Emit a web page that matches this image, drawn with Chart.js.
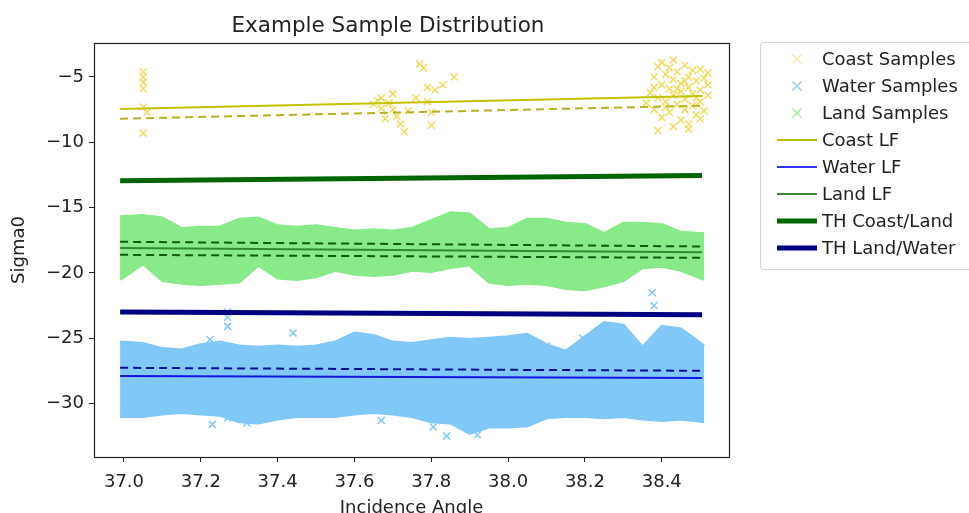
<!DOCTYPE html>
<html>
<head>
<meta charset="utf-8">
<script src="https://cdn.jsdelivr.net/npm/chart.js@4"></script>
<style>
html,body{margin:0;padding:0;background:#fff;}
#wrap{width:969px;height:513px;position:relative;}
</style>
</head>
<body>
<div id="wrap"><canvas id="c" width="969" height="513"></canvas></div>
<script>
// ---------- DATA ----------
const chartTitle = "Example Sample Distribution";
const xAxisLabel = "Incidence Angle";
const yAxisLabel = "Sigma0";
const xTicks = [37.0, 37.2, 37.4, 37.6, 37.8, 38.0, 38.2, 38.4];
const yTicks = [-30, -25, -20, -15, -10, -5];
const legendLabels = ["Coast Samples", "Water Samples", "Land Samples", "Coast LF", "Water LF", "Land LF", "TH Coast/Land", "TH Land/Water"];

// envelope of the dense sample clouds
const bandAngles = [36.99, 37.05, 37.10, 37.15, 37.20, 37.25, 37.30, 37.35, 37.40, 37.45, 37.50, 37.55, 37.60, 37.65, 37.70, 37.75, 37.80, 37.85, 37.90, 37.95, 38.00, 38.05, 38.10, 38.15, 38.20, 38.25, 38.30, 38.35, 38.40, 38.45, 38.51];
const landUpper  = [-15.7, -15.6, -15.8, -16.6, -16.5, -16.5, -15.9, -15.8, -16.4, -16.5, -16.4, -16.6, -16.8, -16.7, -16.8, -16.6, -16.0, -15.4, -15.5, -16.7, -16.6, -15.9, -15.9, -16.2, -16.3, -17.0, -16.2, -16.2, -16.3, -16.9, -17.0];
const landLower  = [-20.5, -19.3, -20.6, -20.8, -20.9, -20.8, -20.7, -19.4, -20.4, -20.5, -20.3, -19.8, -20.1, -20.2, -20.1, -19.8, -19.9, -19.6, -19.4, -20.7, -20.9, -20.8, -20.9, -21.2, -21.3, -21.0, -20.6, -19.6, -19.5, -19.8, -20.5];
const waterUpper = [-25.3, -25.4, -25.8, -25.9, -25.5, -25.3, -25.6, -25.7, -25.6, -25.7, -25.6, -25.3, -24.6, -24.8, -25.3, -25.4, -25.2, -25.0, -25.1, -25.0, -24.9, -24.7, -25.5, -26.0, -24.9, -23.8, -24.0, -25.7, -24.1, -24.3, -25.6];
const waterLower = [-31.0, -31.0, -30.8, -30.7, -30.8, -30.9, -31.4, -31.5, -31.2, -31.0, -31.0, -31.0, -30.8, -30.7, -30.8, -31.0, -31.4, -31.5, -32.3, -31.8, -31.8, -31.7, -31.1, -31.0, -31.0, -31.1, -31.0, -31.2, -31.3, -31.2, -31.4];

// individual visible water samples outside the cloud
const waterOutAngles = [37.224, 37.27, 37.27, 37.27, 37.44, 37.23, 37.27, 37.32, 37.805, 37.84, 37.92, 38.10, 38.195, 38.22, 38.375, 38.38, 37.67, 38.31];
const waterOutSigma  = [-25.1, -23.0, -23.4, -24.1, -24.6, -31.6, -31.1, -31.5, -31.8, -32.5, -32.4, -25.6, -25.0, -25.7, -21.5, -22.5, -31.3, -25.9];

// coast samples
const coastAngles = [37.05, 37.05, 37.05, 37.05, 37.05, 37.06, 37.05,
  37.65, 37.66, 37.67, 37.68, 37.69, 37.70, 37.71, 37.72, 37.73, 37.74, 37.76, 37.77, 37.78, 37.79, 37.79, 37.80, 37.80, 37.81, 37.83, 37.86, 37.67, 37.70,
  38.37, 38.38, 38.38, 38.39, 38.39, 38.40, 38.40, 38.40, 38.41, 38.41, 38.42, 38.42, 38.42, 38.43, 38.43, 38.43, 38.44, 38.44, 38.45, 38.45, 38.45, 38.46, 38.46, 38.46, 38.47, 38.47, 38.47, 38.48, 38.48, 38.48, 38.49, 38.49, 38.50, 38.50, 38.50, 38.51, 38.51, 38.52, 38.52, 38.39, 38.41, 38.44, 38.46, 38.49, 38.36, 38.38, 38.43, 38.47, 38.50, 38.52];
const coastSigma = [-4.6, -5.0, -5.4, -5.9, -7.3, -7.7, -9.3,
  -7.1, -6.8, -7.4, -8.2, -7.0, -6.3, -8.0, -8.6, -9.2, -7.6, -6.6, -4.0, -4.3, -5.8, -6.9, -8.7, -7.7, -6.0, -5.6, -5.0, -6.6, -7.5,
  -6.2, -5.0, -7.5, -4.2, -6.6, -3.9, -5.6, -8.1, -4.8, -6.9, -4.3, -5.9, -7.7, -5.2, -6.4, -8.8, -4.6, -7.1, -5.5, -6.1, -8.3, -4.1, -6.7, -7.5, -5.0, -5.8, -8.6, -4.5, -6.3, -7.2, -5.3, -7.9, -4.4, -6.0, -6.9, -5.1, -7.6, -4.7, -6.4, -9.1, -7.3, -5.9, -5.3, -6.6, -7.0, -5.8, -3.7, -9.0, -8.2, -5.6];

// fitted lines and thresholds (end points)
const lineAngles = [36.99, 38.505];
const coastFit = [-7.45, -6.45];
const coastFitLow = [-8.2, -7.2];
const waterFit = [-27.9, -28.05];
const waterFitHigh = [-27.27, -27.5];
const landFit = [-18.1, -18.42];
const landFitHigh = [-17.62, -17.98];
const landFitLow = [-18.62, -18.85];
const thCoastLand = [-12.95, -12.55];
const thLandWater = [-23.0, -23.2];

// ---------- STYLE ----------
const FONT = "'DejaVu Sans', sans-serif";
const C = {
  coastS: '#f0dc5c', waterS: '#80c8f7', landS: '#88ea88',
  coastLF: '#c4c000', coastDash: '#b8b020',
  waterLF: '#1414e0', waterDash: '#0a0a9a',
  landLF: '#2e8b2e', landDash: '#0e5a0e',
  thCL: '#006400', thLW: '#000080'
};

function pts(xs, ys) { return xs.map((x, i) => ({x: x, y: ys[i]})); }

function lineDs(label, ys, color, width, dash, order) {
  return { label, data: pts(lineAngles, ys), showLine: true, borderColor: color, backgroundColor: color,
    borderWidth: width, borderDash: dash || [], pointRadius: 0, fill: false, order, borderCapStyle: 'butt' };
}
function bandDs(label, ys, color, fillTarget, order) {
  return { label, data: pts(bandAngles, ys), showLine: true, borderColor: color, backgroundColor: color,
    borderWidth: 3, pointRadius: 0, fill: fillTarget, order, tension: 0 };
}

const datasets = [
  bandDs('Water Samples', waterUpper, C.waterS, '+1', 20),
  bandDs('Water Samples low', waterLower, C.waterS, false, 20),
  bandDs('Land Samples', landUpper, C.landS, '+1', 19),
  bandDs('Land Samples low', landLower, C.landS, false, 19),
  { label: 'Water Samples pts', data: pts(waterOutAngles, waterOutSigma), pointStyle: 'crossRot', pointRadius: 5,
    borderColor: C.waterS, backgroundColor: C.waterS, pointBorderWidth: 1.5, showLine: false, order: 18 },
  { label: 'Coast Samples', data: pts(coastAngles, coastSigma), pointStyle: 'crossRot', pointRadius: 5,
    borderColor: C.coastS, backgroundColor: C.coastS, pointBorderWidth: 1.5, showLine: false, order: 21 },
  lineDs('Coast LF', coastFit, C.coastLF, 2, null, 5),
  lineDs('Coast LF low', coastFitLow, C.coastDash, 2, [8, 5], 5),
  lineDs('Water LF', waterFit, C.waterLF, 2, null, 5),
  lineDs('Water LF high', waterFitHigh, C.waterDash, 2, [8, 5], 5),
  lineDs('Land LF', landFit, C.landLF, 2, null, 5),
  lineDs('Land LF high', landFitHigh, C.landDash, 2, [8, 5], 5),
  lineDs('Land LF low', landFitLow, C.landDash, 2, [8, 5], 5),
  lineDs('TH Coast/Land', thCoastLand, C.thCL, 5, null, 4),
  lineDs('TH Land/Water', thLandWater, C.thLW, 5, null, 4)
];

const legendItems = [
  {kind: 'x', color: 'rgba(240,220,92,0.55)'},
  {kind: 'x', color: 'rgba(124,198,246,0.8)'},
  {kind: 'x', color: 'rgba(132,232,132,0.8)'},
  {kind: 'l', color: C.coastLF, w: 2},
  {kind: 'l', color: '#3030f0', w: 2},
  {kind: 'l', color: '#3a8a3a', w: 2},
  {kind: 'l', color: C.thCL, w: 5},
  {kind: 'l', color: C.thLW, w: 5}
];

const framePlugin = {
  id: 'frame',
  afterDatasetsDraw(chart) {
    const a = chart.chartArea, ctx = chart.ctx;
    ctx.save();
    ctx.strokeStyle = '#222'; ctx.lineWidth = 1.2;
    ctx.strokeRect(Math.round(a.left) + 0.5, Math.round(a.top) + 0.5, Math.round(a.right - a.left), Math.round(a.bottom - a.top));
    ctx.restore();
  },
  afterDraw(chart) {
    const ctx = chart.ctx;
    ctx.save();
    // title
    ctx.font = "21.5px " + FONT;
    ctx.fillStyle = '#222';
    ctx.textAlign = 'center';
    ctx.textBaseline = 'alphabetic';
    ctx.fillText(chartTitle, 388, 32);
    // legend
    const lx = 760, ly = 42, lw = 230, lh = 227;
    ctx.strokeStyle = '#d4d4d4'; ctx.lineWidth = 1;
    ctx.beginPath();
    if (ctx.roundRect) ctx.roundRect(lx + 0.5, ly + 0.5, lw, lh, 3); else ctx.rect(lx + 0.5, ly + 0.5, lw, lh);
    ctx.stroke();
    ctx.font = "18px " + FONT;
    ctx.textAlign = 'left';
    ctx.textBaseline = 'middle';
    legendLabels.forEach((lab, i) => {
      const y = 59 + i * 27;
      const it = legendItems[i];
      if (it.kind === 'x') {
        ctx.strokeStyle = it.color; ctx.lineWidth = 1.5;
        const cx = 797, r = 4.5;
        ctx.beginPath();
        ctx.moveTo(cx - r, y - r); ctx.lineTo(cx + r, y + r);
        ctx.moveTo(cx + r, y - r); ctx.lineTo(cx - r, y + r);
        ctx.stroke();
      } else {
        ctx.strokeStyle = it.color; ctx.lineWidth = it.w;
        ctx.beginPath(); ctx.moveTo(777, y); ctx.lineTo(817, y); ctx.stroke();
      }
      ctx.fillStyle = '#222';
      ctx.fillText(lab, 822, y + 1);
    });
    ctx.restore();
  }
};

const minus = v => (v < 0 ? '\u2212' + Math.abs(v) : String(v));

new Chart(document.getElementById('c'), {
  type: 'scatter',
  data: { datasets },
  options: {
    responsive: false,
    animation: false,
    devicePixelRatio: 1,
    layout: { padding: { top: 43, right: 240, left: 0, bottom: 0 } },
    plugins: { legend: { display: false }, title: { display: false }, tooltip: { enabled: false } },
    scales: {
      x: {
        type: 'linear', min: 36.922, max: 38.575,
        afterFit: s => { s.height = 56; },
        afterBuildTicks: s => { s.ticks = xTicks.map(v => ({value: v})); },
        ticks: { font: { family: FONT, size: 18 }, color: '#222', padding: 10, maxRotation: 0, autoSkip: false,
          callback: v => Number(v).toFixed(1) },
        grid: { drawOnChartArea: false, drawTicks: true, tickLength: 5, color: '#222', lineWidth: 1 },
        border: { display: false },
        title: { display: true, text: xAxisLabel, font: { family: FONT, size: 18 }, color: '#222', padding: { top: 0, bottom: -6 } }
      },
      y: {
        type: 'linear', min: -34.1, max: -2.4,
        afterFit: s => { s.width = 94; },
        afterBuildTicks: s => { s.ticks = yTicks.map(v => ({value: v})); },
        ticks: { font: { family: FONT, size: 18 }, color: '#222', padding: 5, autoSkip: false,
          callback: v => minus(v) },
        grid: { drawOnChartArea: false, drawTicks: true, tickLength: 5, color: '#222', lineWidth: 1 },
        border: { display: false },
        title: { display: true, text: yAxisLabel, font: { family: FONT, size: 18 }, color: '#222', padding: { top: 9, bottom: 0 } }
      }
    }
  },
  plugins: [framePlugin]
});
</script>
</body>
</html>
